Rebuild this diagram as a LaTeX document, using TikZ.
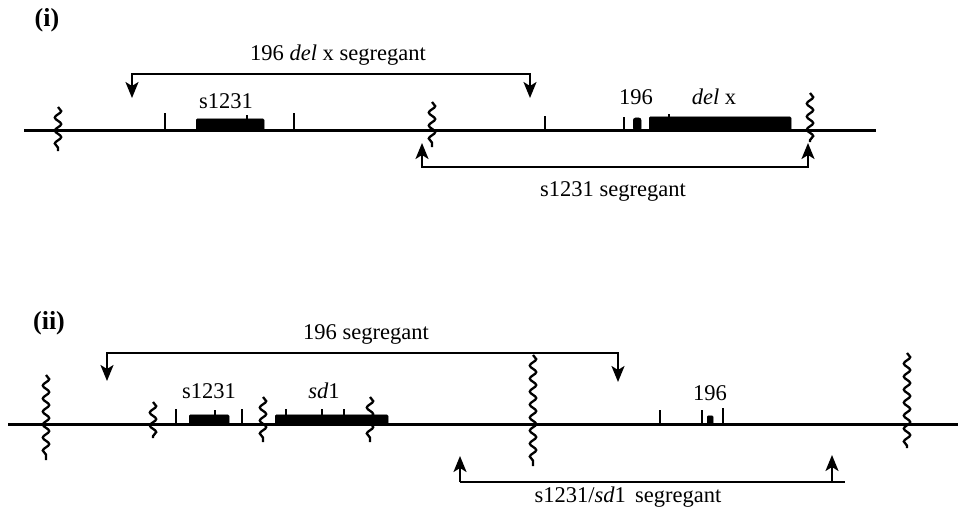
\documentclass[tikz,border=0pt]{standalone}
\usepackage{fontspec}
\setmainfont{Liberation Serif}
\usetikzlibrary{arrows.meta,decorations.pathmorphing}
\begin{document}
\begin{tikzpicture}[x=1pt,y=-1pt,
  chrom/.style={line width=3pt},
  brk/.style={line width=2.3pt, decorate, decoration={snake, amplitude=3.2pt, segment length=13pt}},
  gene/.style={fill=black, draw=black, rounded corners=1.2pt, inner sep=0, anchor=south west},
  tk/.style={line width=2.3pt},
  seg/.style={line width=2.2pt, {Stealth[length=16pt,width=13pt,inset=4pt]}-{Stealth[length=16pt,width=13pt,inset=4pt]}},
  sega/.style={line width=2.2pt, -{Stealth[length=16pt,width=13pt,inset=4pt]}},
  segn/.style={line width=2.2pt},
  lbl/.style={font=\fontsize{22.5}{26}\selectfont, inner sep=0},
  plab/.style={font=\fontsize{26}{30}\selectfont\bfseries, inner sep=0}]
\useasboundingbox (0,0) rectangle (958,517);

% ---------------- panel (i) ----------------
\node[plab] (pi) at (47,20) {(i)};
\coordinate (L1a) at (24,130);
\coordinate (L1b) at (876,130);
\draw[chrom] (L1a) -- (L1b);
% breaks
\coordinate (b1a) at (58,107);  \coordinate (b1b) at (58,151);
\coordinate (b2a) at (432,102); \coordinate (b2b) at (432,147);
\coordinate (b3a) at (810,93);  \coordinate (b3b) at (810,142);
\draw[brk] (b1a) -- (b1b);
\draw[brk] (b2a) -- (b2b);
\draw[brk] (b3a) -- (b3b);
% ticks
\draw[tk] (165,113) -- (165,130);
\draw[tk] (294,113) -- (294,130);
\draw[tk] (545,116) -- (545,130);
\draw[tk] (624,117) -- (624,130);
% genes
\node[gene, minimum width=68pt, minimum height=12pt] (g1231) at (196,131) {};
\draw[line width=1.6pt] (247,115) -- (247,120);
\node[gene, minimum width=8pt, minimum height=13pt, rounded corners=2.5pt] (g196) at (633,131) {};
\node[gene, minimum width=142pt, minimum height=14pt] (gdel) at (649,131) {};
\draw[line width=1.6pt] (669,114) -- (669,118);
% gene labels
\node[lbl] (t1231) at (226,101) {s1231};
\node[lbl] (t196) at (636,97) {196};
\node[lbl] (tdel) at (714,97) {\textit{del} x};
% segregant arrows
\coordinate (u1) at (132,98);
\coordinate (u1c) at (132,74);
\coordinate (u2) at (530,98);
\draw[seg] (u1) -- (u1c) -| (u2);
\node[lbl] (tu) at (338,55) {196 \textit{del} x segregant};
\coordinate (d1) at (422,143);
\coordinate (d1c) at (422,167);
\coordinate (d2) at (808,143);
\draw[seg] (d1) -- (d1c) -| (d2);
\node[lbl] (td) at (613,191) {s1231 segregant};

% ---------------- panel (ii) ----------------
\node[plab] (pii) at (49,323) {(ii)};
\coordinate (L2a) at (8,424);
\coordinate (L2b) at (958,424);
\draw[chrom] (L2a) -- (L2b);
% breaks
\coordinate (c1a) at (46,375);  \coordinate (c1b) at (46,460);
\coordinate (c2a) at (153,402); \coordinate (c2b) at (153,438);
\coordinate (c3a) at (263,397); \coordinate (c3b) at (263,442);
\coordinate (c4a) at (370,397); \coordinate (c4b) at (370,442);
\coordinate (c5a) at (533,355); \coordinate (c5b) at (533,466);
\coordinate (c6a) at (907,353); \coordinate (c6b) at (907,448);
\draw[brk] (c1a) -- (c1b);
\draw[brk] (c2a) -- (c2b);
\draw[brk] (c3a) -- (c3b);
\draw[brk] (c4a) -- (c4b);
\draw[brk] (c5a) -- (c5b);
\draw[brk] (c6a) -- (c6b);
% ticks
\draw[tk] (176,409) -- (176,424);
\draw[tk] (242,409) -- (242,424);
\draw[tk] (660,410) -- (660,424);
\draw[tk] (702,410) -- (702,424);
\draw[tk] (723,408) -- (723,424);
% genes
\node[gene, minimum width=40pt, minimum height=10pt] (h1231) at (189,425) {};
\draw[line width=1.6pt] (215,410) -- (215,416);
\node[gene, minimum width=113pt, minimum height=10pt] (hsd) at (275,425) {};
\draw[line width=1.6pt] (286,409) -- (286,416);
\draw[line width=1.6pt] (322,409) -- (322,416);
\draw[line width=1.6pt] (344,409) -- (344,416);
\node[gene, minimum width=6pt, minimum height=9pt, rounded corners=1pt] (h196) at (707,425) {};
% gene labels
\node[lbl] (s1231b) at (209,391) {s1231};
\node[lbl] (ssd) at (324,391) {\textit{sd}1};
\node[lbl] (s196) at (710,393) {196};
% segregant arrows
\coordinate (v1) at (107,381);
\coordinate (v1c) at (107,353);
\coordinate (v2) at (618,382);
\draw[seg] (v1) -- (v1c) -| (v2);
\node[lbl] (tv) at (366,334) {196 segregant};
\coordinate (w1) at (460,456);
\coordinate (w1c) at (460,482);
\coordinate (w2) at (845,482);
\coordinate (w3) at (832,482);
\coordinate (w3t) at (832,455);
\draw[segn] (w1c) -- (w2);
\draw[sega] (w1c) -- (w1);
\draw[sega] (w3) -- (w3t);
\node[lbl] (tw) at (628,497) {s1231/\textit{sd}1\, segregant};
\end{tikzpicture}
\end{document}
